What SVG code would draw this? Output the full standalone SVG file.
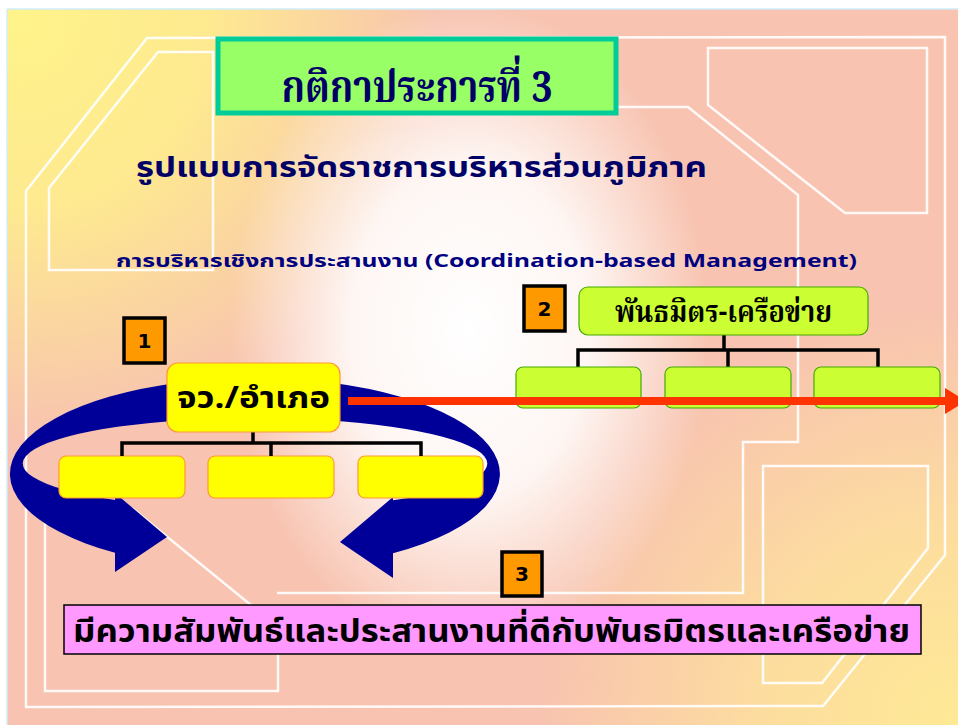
<svg xmlns="http://www.w3.org/2000/svg" width="958" height="725" viewBox="0 0 958 725">
<defs>
<radialGradient id="yelTL" cx="20" cy="20" r="420" gradientUnits="userSpaceOnUse">
<stop offset="0" stop-color="#fff38a" stop-opacity="1"/>
<stop offset="0.45" stop-color="#fff08a" stop-opacity="0.85"/>
<stop offset="1" stop-color="#fff08a" stop-opacity="0"/>
</radialGradient>
<radialGradient id="yelBR" cx="958" cy="725" r="420" gradientUnits="userSpaceOnUse">
<stop offset="0" stop-color="#fee995" stop-opacity="1"/>
<stop offset="0.45" stop-color="#fee49a" stop-opacity="0.8"/>
<stop offset="1" stop-color="#fee49a" stop-opacity="0"/>
</radialGradient>
<radialGradient id="glow" cx="470" cy="330" r="300" gradientUnits="userSpaceOnUse" gradientTransform="translate(470 330) scale(0.8 1.1) translate(-470 -330)">
<stop offset="0" stop-color="#ffffff" stop-opacity="1"/>
<stop offset="0.5" stop-color="#ffffff" stop-opacity="0.85"/>
<stop offset="1" stop-color="#ffffff" stop-opacity="0"/>
</radialGradient>
<style>
.deco{fill:none;stroke:#ffffff;stroke-width:2.5;stroke-opacity:0.9;stroke-linejoin:miter}
.badge rect{fill:#ff9900;stroke:#000000;stroke-width:3.5}
.badge text{font-family:"DejaVu Sans",Verdana,sans-serif;font-weight:bold;font-size:20px;fill:#000000;text-anchor:middle}
.ybox{fill:#ffff00;stroke:#ff9933;stroke-width:1.2}
.gbox{fill:#ccff33;stroke:#44aa00;stroke-width:1.2}
.tree{fill:none;stroke:#000000;stroke-width:3.5}
.thai{font-family:"Noto Sans Thai","Noto Sans Thai UI",Tahoma,"DejaVu Sans",sans-serif;font-weight:bold}
.thaiserif{font-family:"Noto Serif Thai","Noto Sans Thai",serif;font-weight:bold}
.ring{fill:#000099}
</style>
</defs>
<g id="background">
<rect x="0" y="0" width="958" height="725" fill="#ffffff"/>
<rect x="7" y="9" width="951" height="716" fill="#f8c3b0"/>
<rect x="7" y="9" width="951" height="716" fill="url(#yelTL)"/>
<rect x="7" y="9" width="951" height="716" fill="url(#yelBR)"/>
<rect x="7" y="9" width="951" height="716" fill="url(#glow)"/>
<line x1="7" y1="9" x2="958" y2="9" stroke="#cfeefa" stroke-width="1.5"/>
<line x1="7" y1="9" x2="7" y2="725" stroke="#cfeefa" stroke-width="1.5"/>
<polygon class="deco" points="147,38 945,37 945,555 823,706 26,707 26,191"/>
<polygon class="deco" points="158,52 213,52 213,270 49,270 49,188"/>
<polygon class="deco" points="708,48 927,48 927,213 845,213 708,105"/>
<polyline class="deco" points="618,107 688,107 798,195 798,442 743,442 743,593 277,593" stroke-opacity="0.7"/>
<polygon class="deco" points="45,509 133,509 278,627 278,691 45,691"/>
<polygon class="deco" points="763,466 928,466 928,548 822,683 763,683"/>
</g>
<g id="title">
<rect x="218" y="39" width="398" height="74" fill="#99ff66" stroke="#00cc99" stroke-width="5"/>
<text class="thaiserif" x="417" y="102" font-size="44" fill="#000066" text-anchor="middle" textLength="271" lengthAdjust="spacingAndGlyphs">กติกาประการที่ 3</text>
</g>
<g id="subtitle">
<text class="thai" x="136" y="177" font-size="28" fill="#000066" textLength="571" lengthAdjust="spacingAndGlyphs">รูปแบบการจัดราชการบริหารส่วนภูมิภาค</text>
</g>
<g id="heading">
<text class="thai" x="116" y="267" font-size="18" fill="#000080" textLength="741" lengthAdjust="spacingAndGlyphs">การบริหารเชิงการประสานงาน (Coordination-based Management)</text>
</g>
<g id="cycle-arrows">
<path class="ring" d="M255,378 A245,96 0 0 0 115,552.8 L115,572 L167,537 L115,493 L115,500 A232,45.6 0 0 1 255,418 Z"/>
<path class="ring" d="M255,378 A245,96 0 0 1 393,553.3 L393,578 L340,542 L393,497 L393,500.3 A232,45.6 0 0 0 255,418 Z"/>
</g>
<g id="node1-children">
<rect class="ybox" x="59" y="456" width="126" height="42" rx="7"/>
<rect class="ybox" x="208" y="456" width="126" height="42" rx="7"/>
<rect class="ybox" x="358" y="456" width="125" height="42" rx="7"/>
</g>
<g id="connectors">
<polyline class="tree" points="253,432 253,443"/>
<polyline class="tree" points="122,456 122,443 421,443 421,456"/>
<polyline class="tree" points="271,443 271,456"/>
<polyline class="tree" points="724,335 724,350"/>
<polyline class="tree" points="578,367 578,350 878,350 878,367"/>
<polyline class="tree" points="728,350 728,367"/>
</g>
<g id="node1">
<rect class="ybox" x="167" y="363" width="173" height="69" rx="11"/>
<text class="thai" x="253.5" y="408" font-size="30" fill="#000000" text-anchor="middle" textLength="153" lengthAdjust="spacingAndGlyphs">จว./อำเภอ</text>
</g>
<g id="badge1" class="badge">
<rect x="124" y="318" width="41" height="45"/>
<text x="144.5" y="348">1</text>
</g>
<g id="node2-children">
<rect class="gbox" x="516" y="367" width="125" height="41" rx="7"/>
<rect class="gbox" x="665" y="367" width="126" height="41" rx="7"/>
<rect class="gbox" x="814" y="367" width="126" height="41" rx="7"/>
</g>
<g id="node2">
<rect class="gbox" x="579" y="287" width="289" height="48" rx="9"/>
<text class="thaiserif" x="723.5" y="322" font-size="30" fill="#000000" text-anchor="middle" textLength="217" lengthAdjust="spacingAndGlyphs">พันธมิตร-เครือข่าย</text>
</g>
<g id="badge2" class="badge">
<rect x="524" y="286" width="41" height="45"/>
<text x="544.5" y="316">2</text>
</g>
<g id="link-arrow">
<line x1="348" y1="401" x2="948" y2="401" stroke="#ff3300" stroke-width="8"/>
<polygon points="945,388 966,401 945,414" fill="#ff3300"/>
</g>
<g id="badge3" class="badge">
<rect x="502" y="552" width="40" height="44"/>
<text x="522" y="581">3</text>
</g>
<g id="node3">
<rect x="64" y="605" width="857" height="49" fill="#ff99ff" stroke="#000000" stroke-width="1.5"/>
<text class="thai" x="73" y="642" font-size="32" fill="#000000" textLength="837" lengthAdjust="spacingAndGlyphs">มีความสัมพันธ์และประสานงานที่ดีกับพันธมิตรและเครือข่าย</text>
</g>
</svg>
